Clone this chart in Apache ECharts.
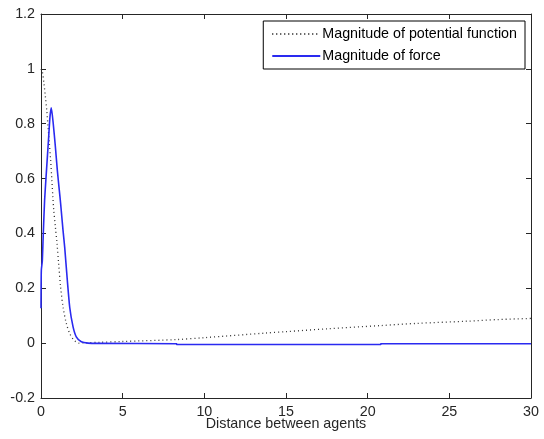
<!DOCTYPE html>
<html>
<head>
<meta charset="utf-8">
<script src="https://cdn.jsdelivr.net/npm/echarts@6/dist/echarts.min.js"></script>
<style>html,body{margin:0;padding:0;background:#fff}#c{width:544px;height:439px}</style>
</head>
<body>
<div id="c"></div>
<script>
var xTicks = [0, 5, 10, 15, 20, 25, 30];
var yTicks = [-0.2, 0, 0.2, 0.4, 0.6, 0.8, 1, 1.2];
var potentialX = [0, 0.08, 0.18, 0.27, 0.35, 0.43, 0.51, 0.59, 0.67, 0.73, 0.78, 0.88, 0.98, 1.08, 1.2, 1.35, 1.55, 1.76, 2.02, 2.33, 2.6, 3.6, 5, 8.3, 10, 13.8, 15, 17.5, 20.8, 23, 26.1, 28, 30];
var potentialY = [1.0, 0.99, 0.947, 0.898, 0.85, 0.79, 0.728, 0.667, 0.59, 0.53, 0.485, 0.424, 0.363, 0.29, 0.205, 0.132, 0.072, 0.035, 0.011, 0.0, 0.001, 0.003, 0.006, 0.013, 0.02, 0.037, 0.042, 0.052, 0.064, 0.072, 0.08, 0.086, 0.09];
var forceX = [0, 0.02, 0.08, 0.14, 0.22, 0.31, 0.39, 0.47, 0.55, 0.63, 0.75, 0.88, 1.0, 1.12, 1.2, 1.35, 1.45, 1.61, 1.76, 1.96, 2.16, 2.47, 2.88, 3.5, 8.3, 8.31, 20.8, 20.81, 30];
var forceY = [0.127, 0.266, 0.3, 0.4, 0.52, 0.606, 0.679, 0.752, 0.825, 0.858, 0.80, 0.716, 0.63, 0.558, 0.51, 0.41, 0.35, 0.23, 0.13, 0.06, 0.023, 0.005, 0, -0.001, -0.002, -0.005, -0.005, -0.002, -0.002];
var seriesNames = ['Magnitude of potential function', 'Magnitude of force'];
var xName = 'Distance between agents';

function pairs(xs, ys) { return xs.map(function (x, i) { return [x, ys[i]]; }); }

var font = 'Liberation Sans, Arial, sans-serif';
var fs = 14.3;
var axisColor = '#262626';
function xAxisCfg(pos, labels) {
  return {
    type: 'value', position: pos, min: 0, max: 30, interval: 5,
    name: labels ? xName : '', nameLocation: 'middle', nameGap: 19.5, nameMoveOverlap: false,
    nameTextStyle: { color: axisColor, fontSize: fs, fontFamily: font, verticalAlign: 'top' },
    axisLine: { show: true, onZero: false, lineStyle: { color: axisColor, width: 1 } },
    axisTick: { show: true, inside: true, length: 5, lineStyle: { color: axisColor } },
    axisLabel: { show: labels, color: axisColor, fontSize: fs, fontFamily: font, margin: 7 },
    splitLine: { show: false }
  };
}
function yAxisCfg(pos, labels) {
  return {
    type: 'value', position: pos, min: -0.2, max: 1.2, interval: 0.2,
    axisLine: { show: true, onZero: false, lineStyle: { color: axisColor, width: 1 } },
    axisTick: { show: true, inside: true, length: 5, lineStyle: { color: axisColor } },
    axisLabel: { show: labels, color: axisColor, fontSize: fs, fontFamily: font, margin: 6,
      formatter: function (v) { return String(Math.round(v * 10) / 10); } },
    splitLine: { show: false }
  };
}

var chart = echarts.init(document.getElementById('c'), null, { renderer: 'canvas' });
chart.setOption({
  animation: false,
  backgroundColor: '#fff',
  grid: { left: 41, top: 14, right: 13, bottom: 41, containLabel: false, outerBoundsMode: 'none' },
  xAxis: [xAxisCfg('bottom', true), xAxisCfg('top', false)],
  yAxis: [yAxisCfg('left', true), yAxisCfg('right', false)],
  legend: {
    orient: 'vertical', right: 19, top: 21,
    backgroundColor: '#fff', borderColor: '#000', borderWidth: 1, borderRadius: 0,
    padding: [6, 8, 6, 8], itemWidth: 48, itemHeight: 14, itemGap: 8,
    itemStyle: { opacity: 0 },
    textStyle: { color: '#000', fontSize: fs, fontFamily: font, padding: [0, 0, 0, -3] },
    data: seriesNames
  },
  series: [
    {
      name: seriesNames[0], type: 'line', symbol: 'none', smooth: 0.3,
      lineStyle: { color: '#333', width: 1.3, type: [1, 3] },
      itemStyle: { color: '#333' },
      data: pairs(potentialX, potentialY)
    },
    {
      name: seriesNames[1], type: 'line', symbol: 'none', smooth: 0.2,
      lineStyle: { color: '#2a2af0', width: 1.6 },
      itemStyle: { color: '#2a2af0' },
      data: pairs(forceX, forceY)
    }
  ]
});
</script>
</body>
</html>
